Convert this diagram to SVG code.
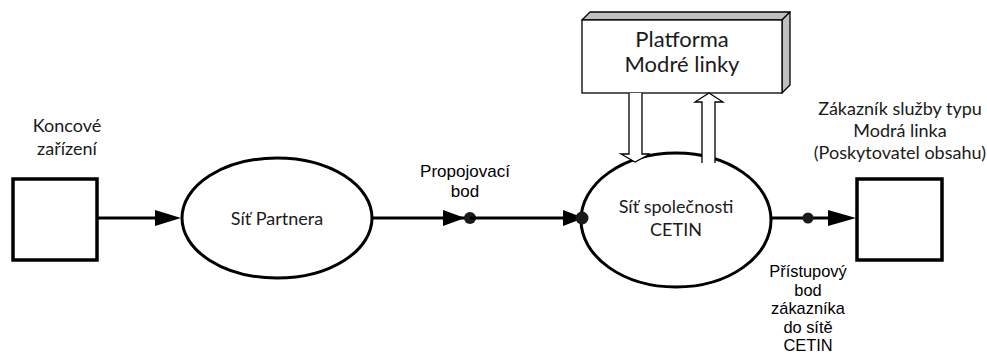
<svg xmlns="http://www.w3.org/2000/svg" width="987" height="354" viewBox="0 0 987 354">
<style>
.cal{font-family:Lato,"Open Sans","Liberation Sans",sans-serif;fill:#1a1a1a;font-size:18px}
.ar{font-family:"Liberation Sans",Arial,sans-serif;fill:#000;font-size:16.4px}
.box{fill:#fff;stroke:#000;stroke-width:3.5}
.ell{fill:#fff;stroke:#000;stroke-width:3}
.ln{fill:none;stroke:#000;stroke-width:3}
.head{fill:#000}
.dot{fill:#1a1a1a}
.thin{fill:#fff;stroke:#000;stroke-width:1.3}
.face{fill:#c0c0c0;stroke:#000;stroke-width:1.3;stroke-linejoin:round}
</style>
<rect width="987" height="354" fill="#fff"/>
<g id="node-koncove">
<rect class="box" x="13" y="179" width="84" height="81"/>
<text class="cal" x="67" y="132" text-anchor="middle">Koncové</text>
<text class="cal" x="67" y="155" text-anchor="middle">zařízení</text>
</g>
<g id="node-partner">
<ellipse class="ell" cx="277" cy="218" rx="95" ry="60"/>
<text class="cal" x="277" y="225" text-anchor="middle">Síť Partnera</text>
</g>
<g id="node-cetin">
<ellipse class="ell" cx="676" cy="220" rx="95" ry="67"/>
<text class="cal" x="676" y="213" text-anchor="middle">Síť společnosti</text>
<text class="cal" x="676" y="236" text-anchor="middle">CETIN</text>
</g>
<g id="node-zakaznik">
<rect class="box" x="857" y="179" width="85" height="81"/>
<text class="cal" x="900" y="115" text-anchor="middle">Zákazník služby typu</text>
<text class="cal" x="900" y="137" text-anchor="middle">Modrá linka</text>
<text class="cal" x="900" y="159" text-anchor="middle">(Poskytovatel obsahu)</text>
</g>
<g id="node-platforma">
<polygon class="face" points="582,20 590,12 790,12 782,20"/>
<polygon class="face" points="782,20 790,12 790,85 782,93"/>
<rect class="thin" x="582" y="20" width="200" height="73"/>
<text class="cal" x="682" y="47" style="font-size:22px" text-anchor="middle">Platforma</text>
<text class="cal" x="682" y="72" style="font-size:22px" text-anchor="middle">Modré linky</text>
</g>
<g id="connectors">
<line class="ln" x1="97" y1="218" x2="160" y2="218"/>
<polygon class="head" points="155,210 181,218 155,226"/>
<line class="ln" x1="372" y1="218" x2="470" y2="218"/>
<polygon class="head" points="443,210 465,218 443,226"/>
<circle class="dot" cx="470" cy="218" r="6"/>
<line class="ln" x1="470" y1="218" x2="570" y2="218"/>
<polygon class="head" points="563,210 584,218 563,226"/>
<circle class="dot" cx="582" cy="218" r="6.5"/>
<line class="ln" x1="771" y1="218" x2="835" y2="218"/>
<circle class="dot" cx="808" cy="218" r="5.5"/>
<polygon class="head" points="828,210 856,218 828,226"/>
<polygon fill="#fff" points="629,93 642,93 642,154 650,154 635,162 621,154 629,154"/>
<path d="M629,93 V154 H621 L635,162 L650,154 H642 V93" fill="none" stroke="#000" stroke-width="1.3" stroke-linejoin="miter"/>
<polygon fill="#fff" points="702,166 702,102 695,102 709,93 723,102 715,102 715,166"/>
<path d="M702,163 V102 H695 L709,93 L723,102 H715 V163" fill="none" stroke="#000" stroke-width="1.3"/>
<text class="ar" x="465" y="177" style="font-size:17px" text-anchor="middle">Propojovací</text>
<text class="ar" x="465" y="197" style="font-size:17px" text-anchor="middle">bod</text>
<text class="ar" x="808" y="277" text-anchor="middle">Přístupový</text>
<text class="ar" x="808" y="295.5" text-anchor="middle">bod</text>
<text class="ar" x="808" y="314" text-anchor="middle">zákazníka</text>
<text class="ar" x="808" y="332.5" text-anchor="middle">do sítě</text>
<text class="ar" x="808" y="351" text-anchor="middle">CETIN</text>
</g>
</svg>
